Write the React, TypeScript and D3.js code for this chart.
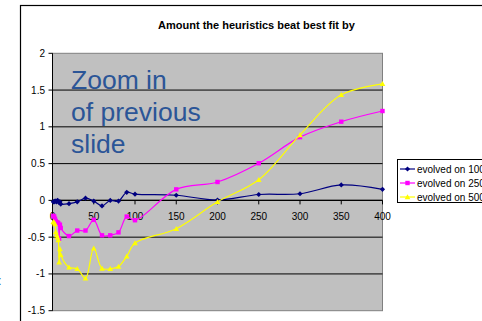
import React from "react";
import * as d3 from "d3";

// Generations (x) shared by the three series
const xValues = [1, 2, 3, 4, 5, 6, 7, 8, 9, 10, 20, 30, 40, 50, 60, 70, 80, 90, 100, 150, 200, 250, 300, 350, 400];

const evolved100 = [-0.02, -0.02, -0.01, -0.01, -0.02, 0.0, -0.01, -0.03, -0.02, -0.05, -0.045, -0.02, 0.03, -0.01, -0.075, 0.0, -0.01, 0.11, 0.085, 0.07, 0.005, 0.08, 0.09, 0.21, 0.15];
const evolved250 = [-0.21, -0.22, -0.25, -0.28, -0.3, -0.3, -0.31, -0.52, -0.33, -0.375, -0.485, -0.41, -0.41, -0.265, -0.475, -0.475, -0.435, -0.22, -0.27, 0.15, 0.25, 0.505, 0.86, 1.07, 1.215];
const evolved500 = [-0.29, -0.3, -0.32, -0.43, -0.47, -0.5, -0.54, -0.84, -0.66, -0.74, -0.91, -0.93, -1.06, -0.65, -0.925, -0.93, -0.9, -0.76, -0.58, -0.385, -0.02, 0.28, 0.89, 1.435, 1.585];

const seriesNames = ["evolved on 100", "evolved on 250", "evolved on 500"];
const seriesColors = ["#000080", "#FF00FF", "#FFFF00"];
const seriesValues = [evolved100, evolved250, evolved500];

const xTicks = [0, 50, 100, 150, 200, 250, 300, 350, 400];
const yTicks = [2, 1.5, 1, 0.5, 0, -0.5, -1, -1.5];

const title = "Amount the heuristics beat best fit by";
const noteLines = ["Zoom in", "of previous", "slide"];

const W = 482;
const H = 321;
const plot = { left: 52.5, right: 382.5, top: 53.3, bottom: 310.7 };

export default function App() {
  const x = d3.scaleLinear().domain([0, 400]).range([plot.left, plot.right]);
  const y = d3.scaleLinear().domain([-1.5, 2]).range([plot.bottom, plot.top]);

  const line = d3
    .line<[number, number]>()
    .x((d) => x(d[0]))
    .y((d) => y(d[1]))
    .curve(d3.curveCatmullRom.alpha(0.5));

  const marker = (i: number, cx: number, cy: number, key: string | number) => {
    const c = seriesColors[i];
    if (i === 0) {
      const r = 2.6;
      return (
        <path key={key} d={`M${cx},${cy - r}L${cx + r},${cy}L${cx},${cy + r}L${cx - r},${cy}Z`} fill={c} />
      );
    }
    if (i === 1) {
      return <rect key={key} x={cx - 2.2} y={cy - 2.2} width={4.4} height={4.4} fill={c} />;
    }
    const r = 2.8;
    return (
      <path key={key} d={`M${cx},${cy - r}L${cx + r},${cy + r * 0.8}L${cx - r},${cy + r * 0.8}Z`} fill={c} />
    );
  };

  const font = "'Liberation Sans', Arial, sans-serif";

  return (
    <div style={{ position: "fixed", left: 0, top: 0, width: W, height: H, background: "#fff" }}>
      <svg width={W} height={H} style={{ display: "block" }} fontFamily={font}>
        <rect x={0} y={0} width={W} height={H} fill="#fff" />
        {/* chart frame */}
        <rect x={20.5} y={5.5} width={W + 10} height={H + 10} fill="none" stroke="#000" strokeWidth={1.2} />
        {/* stray slide text fragment */}
        <text x={-2} y={285} fontSize={13} fill="#2B5597">:</text>

        <text x={256.5} y={28.5} textAnchor="middle" fontSize={11} fontWeight="bold" fill="#000">
          {title}
        </text>

        {/* plot area */}
        <rect
          x={plot.left}
          y={plot.top}
          width={plot.right - plot.left}
          height={plot.bottom - plot.top}
          fill="#C0C0C0"
          stroke="#808080"
          strokeWidth={1}
        />
        {yTicks.filter((t) => t !== 2 && t !== -1.5).map((t) => (
          <line key={t} x1={plot.left} x2={plot.right} y1={y(t)} y2={y(t)} stroke="#000" strokeWidth={1} />
        ))}

        {/* y axis */}
        <line x1={plot.left} x2={plot.left} y1={plot.top} y2={plot.bottom} stroke="#000" strokeWidth={1} />
        {yTicks.map((t) => (
          <g key={t}>
            <line x1={plot.left - 4} x2={plot.left} y1={y(t)} y2={y(t)} stroke="#000" />
            <text x={45} y={y(t)} dy="0.35em" textAnchor="end" fontSize={10} fill="#000">
              {t}
            </text>
          </g>
        ))}

        {/* x axis at zero */}
        <line x1={plot.left} x2={plot.right} y1={y(0)} y2={y(0)} stroke="#000" strokeWidth={1.2} />
        {xTicks.map((t) => (
          <g key={t}>
            <line x1={x(t)} x2={x(t)} y1={y(0)} y2={y(0) + 4} stroke="#000" />
            <text x={x(t)} y={219.5} textAnchor="middle" fontSize={10} fill="#000">
              {t}
            </text>
          </g>
        ))}

        {/* note text */}
        {noteLines.map((s, i) => (
          <text key={s} x={71} y={89.3 + i * 31.7} fontSize={26.5} fill="#2B5597">
            {s}
          </text>
        ))}

        {/* series */}
        {seriesValues.map((vals, i) => {
          const pts: [number, number][] = xValues.map((xv, j) => [xv, vals[j]]);
          return (
            <g key={i}>
              <path d={line(pts) || ""} fill="none" stroke={seriesColors[i]} strokeWidth={1.2} />
              {pts.map((p, j) => marker(i, x(p[0]), y(p[1]), j))}
            </g>
          );
        })}

        {/* legend */}
        <rect x={397.5} y={159.5} width={100} height={43} fill="#fff" stroke="#000" strokeWidth={1} />
        {seriesNames.map((name, i) => {
          const cy = 169 + i * 14;
          return (
            <g key={name}>
              <line x1={400} x2={415} y1={cy} y2={cy} stroke={seriesColors[i]} strokeWidth={1.2} />
              {marker(i, 407.5, cy, "m")}
              <text x={417} y={cy} dy="0.35em" fontSize={10} fill="#000">
                {name}
              </text>
            </g>
          );
        })}
      </svg>
    </div>
  );
}
